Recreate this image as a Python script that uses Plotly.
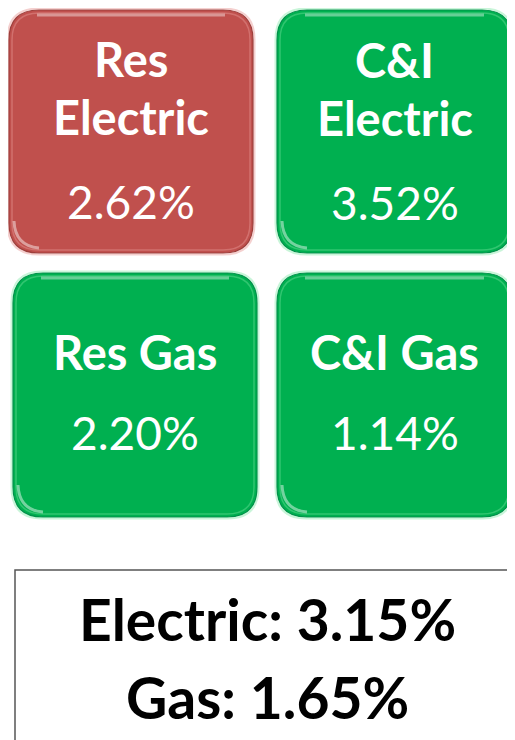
import plotly.graph_objects as go

# Data
tile_titles = ["Res<br>Electric", "C&I<br>Electric", "Res Gas", "C&I Gas"]
tile_values = [2.62, 3.52, 2.20, 1.14]
tile_status = ["bad", "good", "good", "good"]
summary_labels = ["Electric", "Gas"]
summary_values = [3.15, 1.65]

W, H = 515, 740
OFF = 8  # page body margin in the browser
RED = "#C0504D"
GREEN = "#00B050"
colors = {"bad": RED, "good": GREEN}
edge = {"bad": "#9E3F3C", "good": "#00924A"}
rim = {"bad": "rgba(230,150,148,0.45)", "good": "rgba(120,230,160,0.4)"}

# layout (pixel boxes): x0, y0, x1, y1
boxes = [(9, 10, 253, 253), (277, 10, 512, 253), (13, 273, 257, 517), (277, 273, 512, 517)]
title_y = [[59, 117], [60, 118], [352], [352]]
value_y = [201, 202, 432, 432]


def rrect(x0, y0, x1, y1, r):
    return (f"M {x0+r},{y0} L {x1-r},{y0} Q {x1},{y0} {x1},{y0+r} "
            f"L {x1},{y1-r} Q {x1},{y1} {x1-r},{y1} L {x0+r},{y1} "
            f"Q {x0},{y1} {x0},{y1-r} L {x0},{y0+r} Q {x0},{y0} {x0+r},{y0} Z")


fig = go.Figure()
fig.add_trace(go.Scatter(x=[OFF, W], y=[OFF, H], mode="markers", marker=dict(opacity=0),
                         hoverinfo="skip", showlegend=False))

shapes = []
annotations = []
for i, (b, t, v, s) in enumerate(zip(boxes, tile_titles, tile_values, tile_status)):
    x0, y0, x1, y1 = b
    c = colors[s]
    shapes.append(dict(type="path", path=rrect(x0 - 1.5, y0 - 1.5, x1 + 1.5, y1 + 1.5, 31),
                       xref="x", yref="y", fillcolor="rgba(0,0,0,0)",
                       line=dict(color=rim[s], width=2), layer="below"))
    shapes.append(dict(type="path", path=rrect(x0, y0, x1, y1, 30), xref="x", yref="y",
                       fillcolor=c, line=dict(color=edge[s], width=1.2), layer="below"))
    # inner lighter rim
    shapes.append(dict(type="path", path=rrect(x0 + 3, y0 + 3, x1 - 3, y1 - 3, 27), xref="x", yref="y",
                       fillcolor="rgba(0,0,0,0)", line=dict(color=rim[s], width=1.5), layer="below"))
    # top highlight
    shapes.append(dict(type="path",
                       path=f"M {x0+28},{y0+5} L {x1-28},{y0+5}",
                       xref="x", yref="y", line=dict(color="rgba(255,255,255,0.4)", width=3)))
    # bottom-left highlight arc
    shapes.append(dict(type="path",
                       path=f"M {x0+5},{y1-32} Q {x0+6},{y1-7} {x0+30},{y1-5}",
                       xref="x", yref="y", line=dict(color="rgba(255,255,255,0.45)", width=3)))
    cx = (x0 + x1) / 2
    lines = t.split("<br>")
    for ln, yy in zip(lines, title_y[i]):
        annotations.append(dict(x=cx, y=yy, xref="x", yref="y", text=f"<b>{ln}</b>",
                                showarrow=False, xanchor="center", yanchor="middle",
                                font=dict(family="Lato", size=47, color="white")))
    annotations.append(dict(x=cx, y=value_y[i], xref="x", yref="y", text=f"{v:.2f}%",
                            showarrow=False, xanchor="center", yanchor="middle",
                            font=dict(family="Lato", size=46, color="white")))

# summary box
shapes.append(dict(type="path", path=f"M {W+5},570 L 15,570 L 15,{H+5}", xref="x", yref="y",
                   line=dict(color="#555555", width=1.5)))
for lab, val, yy in zip(summary_labels, summary_values, [619, 697]):
    annotations.append(dict(x=267, y=yy, xref="x", yref="y", text=f"<b>{lab}: {val:.2f}%</b>",
                            showarrow=False, xanchor="center", yanchor="middle",
                            font=dict(family="Lato", size=57, color="black")))

fig.update_layout(
    width=W - OFF, height=H - OFF, margin=dict(l=0, r=0, t=0, b=0),
    paper_bgcolor="white", plot_bgcolor="white",
    xaxis=dict(range=[OFF, W], visible=False, fixedrange=True),
    yaxis=dict(range=[H, OFF], visible=False, fixedrange=True),
    shapes=shapes, annotations=annotations, showlegend=False,
)
fig.write_html("out.html")
